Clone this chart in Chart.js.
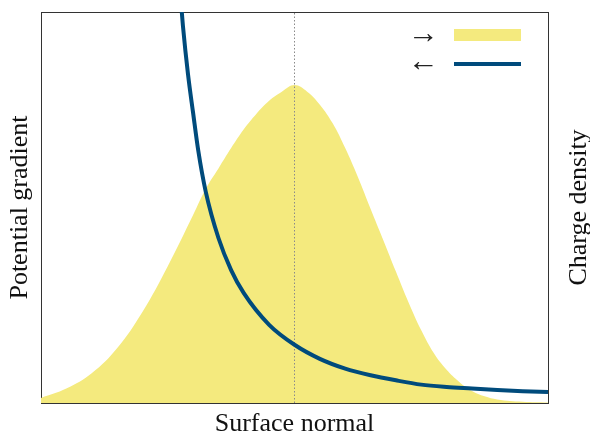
<!DOCTYPE html>
<html>
<head>
<meta charset="utf-8">
<script src="https://cdn.jsdelivr.net/npm/chart.js@4.4.1/dist/chart.umd.min.js"></script>
<style>
  html, body { margin: 0; padding: 0; background: #fff; }
  #wrap { width: 590px; height: 434px; }
</style>
</head>
<body>
<div id="wrap"><canvas id="chart" width="590" height="434"></canvas></div>
<script>
(function () {
    // values (x in 0..10, y in 0..1)
    const densityX = [0, 0.5, 1, 1.5, 2, 2.5, 3, 3.25, 3.5, 3.75, 4, 4.25, 4.5, 4.75, 5, 5.25, 5.5, 5.75, 6, 6.25, 6.5, 6.75, 7, 7.25, 7.5, 7.75, 8, 8.25, 8.5, 8.75, 9, 9.5, 10];
    const densityY = [0.013, 0.037, 0.076, 0.14, 0.233, 0.35, 0.481, 0.548, 0.60, 0.652, 0.70, 0.74, 0.773, 0.796, 0.813, 0.796, 0.763, 0.716, 0.652, 0.578, 0.497, 0.417, 0.336, 0.257, 0.186, 0.127, 0.085, 0.054, 0.031, 0.017, 0.009, 0.003, 0.001];

    const gradientX = [2.7, 2.8, 2.9, 3.0, 3.1, 3.25, 3.5, 3.75, 4.0, 4.5, 5.0, 5.5, 6.0, 6.5, 7.0, 7.5, 8.0, 8.5, 9.0, 9.5, 10];
    const gradientY = [1.12, 0.964, 0.84, 0.742, 0.647, 0.54, 0.422, 0.34, 0.281, 0.2, 0.149, 0.113, 0.088, 0.071, 0.058, 0.047, 0.041, 0.037, 0.033, 0.03, 0.028];

    const markerX = [5, 5];
    const markerY = [0, 1];

    const legendLabels = ['\u2192', '\u2190'];
    const xTitle = 'Surface normal';
    const yTitle = 'Potential gradient';
    const y2Title = 'Charge density';

    const yellow = '#f4ea7e';
    const blue = '#004b7c';
    const frame = '#333333';
    const serif = "'Liberation Serif', 'DejaVu Serif', serif";

    function toPoints(xs, ys) {
        return xs.map(function (x, i) { return { x: x, y: ys[i] }; });
    }

    // legend inside the plot (text left, symbol right) and the right-hand title
    const overlay = {
        id: 'overlay',
        afterDraw(chart) {
            const ctx = chart.ctx;
            const a = chart.chartArea;
            ctx.save();

            ctx.fillStyle = '#222';
            ctx.font = '31px ' + serif;
            ctx.textAlign = 'right';
            ctx.textBaseline = 'middle';
            ctx.fillText(legendLabels[0], a.right - 109, a.top + 23);
            ctx.fillText(legendLabels[1], a.right - 109, a.top + 51);

            ctx.fillStyle = yellow;
            ctx.fillRect(a.right - 94, a.top + 17, 67, 12);

            ctx.strokeStyle = blue;
            ctx.lineWidth = 4;
            ctx.beginPath();
            ctx.moveTo(a.right - 94, a.top + 52);
            ctx.lineTo(a.right - 27, a.top + 52);
            ctx.stroke();

            ctx.translate(579, (a.top + a.bottom) / 2);
            ctx.rotate(-Math.PI / 2);
            ctx.fillStyle = '#111';
            ctx.font = '26px ' + serif;
            ctx.textAlign = 'center';
            ctx.textBaseline = 'middle';
            ctx.fillText(y2Title, 0, 0);
            ctx.restore();
        }
    };

    const hidden = { display: false };
    const noGrid = { display: false, drawTicks: false };
    const edge = { display: true, color: frame, width: 1 };

    const ctx = document.getElementById('chart').getContext('2d');
    new Chart(ctx, {
        type: 'line',
        data: {
            datasets: [
                {
                    label: legendLabels[1],
                    data: toPoints(gradientX, gradientY),
                    borderColor: blue,
                    borderWidth: 4,
                    pointRadius: 0,
                    fill: false,
                    cubicInterpolationMode: 'monotone'
                },
                {
                    label: 'marker',
                    data: toPoints(markerX, markerY),
                    borderColor: '#8a8a8a',
                    borderWidth: 1,
                    borderDash: [1.5, 2],
                    pointRadius: 0,
                    fill: false
                },
                {
                    label: legendLabels[0],
                    data: toPoints(densityX, densityY),
                    borderWidth: 0,
                    borderColor: yellow,
                    backgroundColor: yellow,
                    pointRadius: 0,
                    fill: 'origin',
                    tension: 0.4
                }
            ]
        },
        options: {
            responsive: false,
            animation: false,
            devicePixelRatio: 1,
            layout: { padding: { top: 12, right: 42, bottom: 0, left: 0 } },
            plugins: {
                legend: hidden,
                tooltip: { enabled: false }
            },
            scales: {
                x: {
                    type: 'linear', min: 0, max: 10,
                    ticks: hidden, grid: noGrid, border: edge,
                    title: {
                        display: true, text: xTitle, color: '#111',
                        font: { family: serif, size: 26, lineHeight: 20 / 26 },
                        padding: { top: 11, bottom: 0 }
                    }
                },
                x2: {
                    type: 'linear', position: 'top', min: 0, max: 10,
                    ticks: hidden, grid: noGrid, border: edge
                },
                y: {
                    min: 0, max: 1,
                    ticks: hidden, grid: noGrid, border: edge,
                    title: {
                        display: true, text: yTitle, color: '#111',
                        font: { family: serif, size: 26, lineHeight: 20 / 26 },
                        padding: { top: 10, bottom: 11 }
                    }
                },
                y2: {
                    position: 'right', min: 0, max: 1,
                    ticks: hidden, grid: noGrid, border: edge
                }
            }
        },
        plugins: [overlay]
    });
})();
</script>
</body>
</html>
